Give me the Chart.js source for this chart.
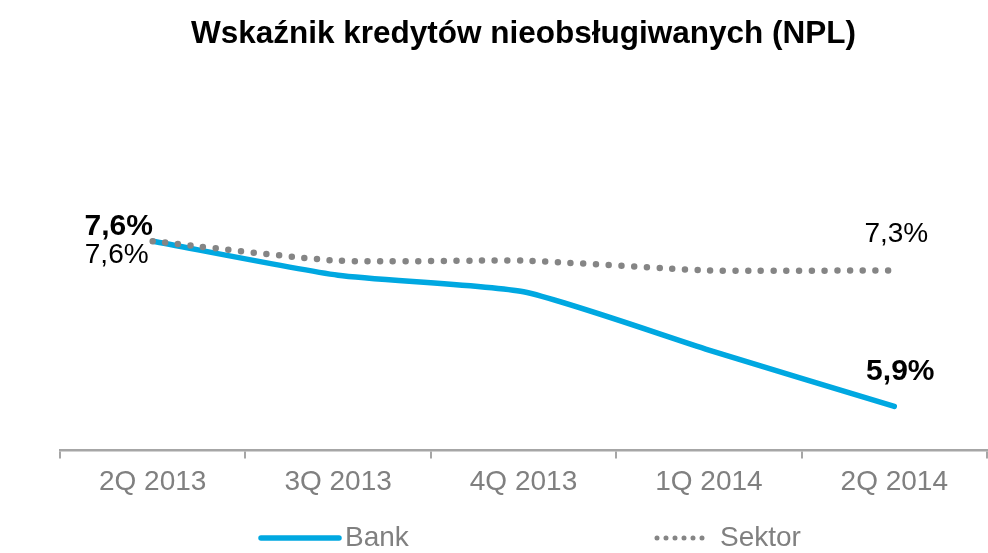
<!DOCTYPE html>
<html lang="pl">
<head>
<meta charset="utf-8">
<title>Wskaźnik kredytów nieobsługiwanych (NPL)</title>
<script src="https://cdn.jsdelivr.net/npm/chart.js@4.4.1/dist/chart.umd.min.js"></script>
<style>
  html, body { margin: 0; padding: 0; background: #fff; }
  .chart-wrap { position: relative; width: 988px; height: 553px; }
</style>
</head>
<body>
<div class="chart-wrap"><canvas id="npl"></canvas></div>
<script>
(function () {
    'use strict';

    // --- dane ---
    var quarters = ['2Q 2013', '3Q 2013', '4Q 2013', '1Q 2014', '2Q 2014'];
    var bankNpl = [7.6, 7.25, 7.08, 6.48, 5.9];
    var sektorNpl = [7.6, 7.4, 7.4, 7.3, 7.3];
    var bankLabels = ['7,6%', null, null, null, '5,9%'];
    var sektorLabels = ['7,6%', null, null, null, '7,3%'];

    var BLUE = '#00A8E1', DOT = '#858585', AXIS = '#A6A6A6', MUTED = '#808080';
    var FONT = "'Liberation Sans', Arial, sans-serif";

    Chart.defaults.font.family = FONT;
    Chart.defaults.animation = false;

    // etykiety wartości przy pierwszym / ostatnim punkcie
    var valueLabels = {
        id: 'valueLabels',
        afterDatasetsDraw: function (chart, args, opts) {
            var ctx = chart.ctx;
            opts.sets.forEach(function (spec, di) {
                var meta = chart.getDatasetMeta(di);
                spec.labels.forEach(function (txt, i) {
                    if (!txt) return;
                    var pt = meta.data[i];
                    var off = i === 0 ? spec.first : spec.last;
                    ctx.save();
                    ctx.font = (spec.bold ? 'bold ' : '') + spec.size + 'px ' + FONT;
                    ctx.fillStyle = '#000';
                    ctx.textAlign = 'center';
                    ctx.textBaseline = 'alphabetic';
                    ctx.fillText(txt, pt.x + off[0], pt.y + off[1]);
                    ctx.restore();
                });
            });
        }
    };

    // legenda: linia / kropki + podpis, styl brany z datasetu
    var lineLegend = {
        id: 'lineLegend',
        afterDraw: function (chart, args, opts) {
            var ctx = chart.ctx;
            opts.items.forEach(function (it) {
                var ds = chart.data.datasets[it.dataset];
                ctx.save();
                ctx.strokeStyle = ds.borderColor;
                ctx.lineCap = 'round';
                ctx.lineWidth = it.lineWidth;
                ctx.setLineDash(it.dash || []);
                ctx.beginPath();
                ctx.moveTo(it.x0, opts.y);
                ctx.lineTo(it.x1, opts.y);
                ctx.stroke();
                ctx.setLineDash([]);
                ctx.font = opts.size + 'px ' + FONT;
                ctx.fillStyle = opts.color;
                ctx.textBaseline = 'alphabetic';
                ctx.fillText(ds.label, it.textX, opts.textY);
                ctx.restore();
            });
        }
    };

    new Chart(document.getElementById('npl'), {
        type: 'line',
        data: {
            labels: quarters,
            datasets: [{
                label: 'Bank', data: bankNpl, order: 1,
                borderColor: BLUE, borderWidth: 5.5,
                borderCapStyle: 'round', borderJoinStyle: 'round',
                tension: 0.2, pointRadius: 0, fill: false
            }, {
                label: 'Sektor', data: sektorNpl, order: 0,
                borderColor: DOT, borderWidth: 6.5, borderDash: [0, 12.7],
                borderCapStyle: 'round', tension: 0.2, pointRadius: 0, fill: false
            }]
        },
        options: {
            responsive: true, maintainAspectRatio: false,
            layout: { padding: { left: 60, right: 1, top: 0, bottom: 46 } },
            plugins: {
                legend: { display: false },
                tooltip: { enabled: false },
                title: {
                    display: true, text: 'Wskaźnik kredytów nieobsługiwanych (NPL)',
                    color: '#000', font: { size: 31.5, weight: 'bold' },
                    padding: { top: 15, bottom: 20.5 }
                },
                valueLabels: {
                    sets: [
                        { labels: bankLabels, bold: true, size: 30, first: [-34, -6], last: [6, -26] },
                        { labels: sektorLabels, bold: false, size: 28, first: [-36, 22], last: [2, -28] }
                    ]
                },
                lineLegend: {
                    y: 538, textY: 546, size: 28, color: MUTED,
                    items: [
                        { dataset: 0, x0: 261, x1: 339, textX: 345, lineWidth: 5.5 },
                        { dataset: 1, x0: 657, x1: 703, textX: 720, lineWidth: 5, dash: [0, 9] }
                    ]
                }
            },
            scales: {
                x: {
                    offset: true,
                    grid: { offset: true, drawOnChartArea: false, drawTicks: true, tickLength: 8, color: AXIS, lineWidth: 2 },
                    border: { color: AXIS, width: 2.5 },
                    ticks: { color: MUTED, font: { size: 28 }, padding: 7.5 }
                },
                y: { display: false, min: 5.447, max: 9.329 }
            }
        },
        plugins: [valueLabels, lineLegend]
    });
})();
</script>
</body>
</html>
